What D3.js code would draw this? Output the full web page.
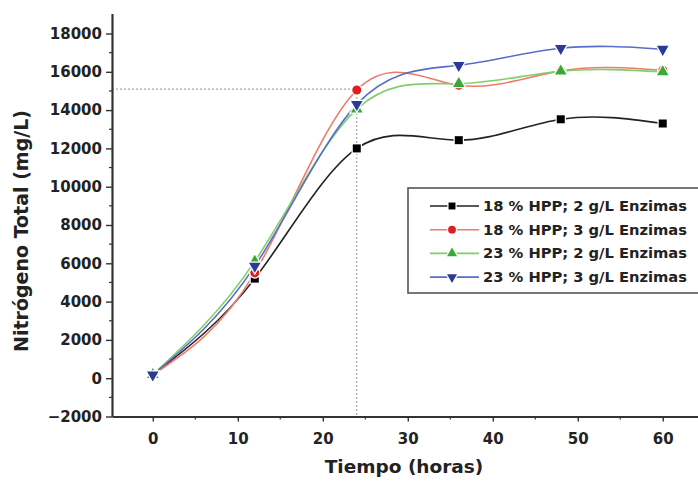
<!DOCTYPE html>
<html><head><meta charset="utf-8">
<script src="https://cdn.jsdelivr.net/npm/d3@7"></script>
<style>body{margin:0;background:#fff}svg{display:block}</style>
</head><body>
<svg id="c" width="698" height="482"></svg>
<script>
const hours = [0, 12, 24, 36, 48, 60];
const seriesNames = ["18 % HPP; 2 g/L Enzimas","18 % HPP; 3 g/L Enzimas","23 % HPP; 2 g/L Enzimas","23 % HPP; 3 g/L Enzimas"];
const s18_2 = [180, 5200, 12000, 12430, 13520, 13300];
const s18_3 = [180, 5500, 15050, 15300, 16050, 16080];
const s23_2 = [180, 6100, 14050, 15380, 16030, 15990];
const s23_3 = [180, 5850, 14300, 16340, 17230, 17180];
const yTicks = [-2000, 0, 2000, 4000, 6000, 8000, 10000, 12000, 14000, 16000, 18000];
const xTicks = [0, 10, 20, 30, 40, 50, 60];
const refPoint = {x: 24, y: 15100};

const lineColors = ["#222", "#f07a6a", "#7fcf6a", "#5a6cc8"];
const markColors = ["#000", "#e02020", "#39a935", "#2a3a9a"];
const shapes = [d3.symbolSquare, d3.symbolCircle, d3.symbolTriangle, "down"];
const allSeries = [s18_2, s18_3, s23_2, s23_3];

const svg = d3.select("#c");
const x = d3.scaleLinear().domain([-4.8, 64.5]).range([112, 701]);
const y = d3.scaleLinear().domain([-2000, 19050]).range([416.5, 13.4]);
const font = "'DejaVu Sans', sans-serif";

// reference dotted lines
svg.append("line").attr("x1", x(-4.8)).attr("x2", x(refPoint.x)).attr("y1", y(refPoint.y)).attr("y2", y(refPoint.y))
  .attr("stroke", "#aaa").attr("stroke-width", 1.2).attr("stroke-dasharray", "2,2");
svg.append("line").attr("x1", x(refPoint.x)).attr("x2", x(refPoint.x)).attr("y1", y(refPoint.y)).attr("y2", y(-2000))
  .attr("stroke", "#aaa").attr("stroke-width", 1.2).attr("stroke-dasharray", "2,2");

// axes
const yAxis = d3.axisLeft(y).tickValues(yTicks).tickFormat(d3.format("d")).tickSize(6).tickSizeOuter(0).tickPadding(4);
const gy = svg.append("g").attr("transform", `translate(${x(-4.8)},0)`).call(yAxis);
const yMinor = d3.range(-1000, 19000, 2000);
gy.selectAll(".minor").data(yMinor).join("line").attr("class","minor")
  .attr("x1", -3).attr("x2", 0).attr("y1", d => y(d)).attr("y2", d => y(d)).attr("stroke", "#333").attr("stroke-width", 1.2);

const xAxis = d3.axisBottom(x).tickValues(xTicks).tickSize(5).tickSizeOuter(0).tickPadding(12);
const gx = svg.append("g").attr("transform", `translate(0,${y(-2000)})`).call(xAxis);
const xMinor = d3.range(5, 65, 10);
gx.selectAll(".minor").data(xMinor).join("line").attr("class","minor")
  .attr("y1", 0).attr("y2", 3).attr("x1", d => x(d)).attr("x2", d => x(d)).attr("stroke", "#333").attr("stroke-width", 1.2);

[gx, gy].forEach(g => {
  g.select(".domain").attr("stroke", "#333").attr("stroke-width", 2.2);
  g.selectAll(".tick line").attr("stroke", "#333").attr("stroke-width", 1.4);
  g.selectAll(".tick text").attr("font-family", font).attr("font-weight", "bold").attr("font-size", 15).attr("fill", "#222");
});

// axis titles
svg.append("text").attr("x", 404).attr("y", 473).attr("text-anchor", "middle")
  .attr("font-family", font).attr("font-weight", "bold").attr("font-size", 18.5).attr("fill", "#222").text("Tiempo (horas)");
svg.append("text").attr("transform", "translate(28,231) rotate(-90)").attr("text-anchor", "middle")
  .attr("font-family", font).attr("font-weight", "bold").attr("font-size", 19).attr("fill", "#222").text("Nitrógeno Total (mg/L)");

function sym(i, size) {
  if (shapes[i] === "down") return d3.symbol(d3.symbolTriangle, size)();
  return d3.symbol(shapes[i], size)();
}
function symRot(i) { return shapes[i] === "down" ? " rotate(180)" : ""; }
const sizes = [64, 64, 58, 58];

const line = d3.line().x((d, i) => x(hours[i])).y(d => y(d)).curve(d3.curveNatural);
allSeries.forEach((s, k) => {
  svg.append("path").attr("d", line(s)).attr("fill", "none").attr("stroke", lineColors[k]).attr("stroke-width", 1.6);
});
allSeries.forEach((s, k) => {
  svg.append("g").selectAll("path").data(s).join("path")
    .attr("d", sym(k, sizes[k]))
    .attr("transform", (d, i) => `translate(${x(hours[i])},${y(d)})${symRot(k)}`)
    .attr("fill", markColors[k]).attr("stroke", "#fff").attr("stroke-width", 2.5)
    .attr("paint-order", "stroke");
});

// legend
const lg = svg.append("g");
lg.append("rect").attr("x", 408).attr("y", 188).attr("width", 300).attr("height", 105)
  .attr("fill", "#fff").attr("stroke", "#555").attr("stroke-width", 1.6);
seriesNames.forEach((n, k) => {
  const ly = 206 + k * 23.7;
  lg.append("line").attr("x1", 430).attr("x2", 479).attr("y1", ly).attr("y2", ly).attr("stroke", lineColors[k]).attr("stroke-width", 1.6);
  lg.append("path").attr("d", sym(k, sizes[k] * 0.75)).attr("transform", `translate(452,${ly})${symRot(k)}`)
    .attr("fill", markColors[k]).attr("stroke", "#fff").attr("stroke-width", 2.5).attr("paint-order", "stroke");
  lg.append("text").attr("x", 483).attr("y", ly + 5).attr("font-family", font).attr("font-weight", "bold")
    .attr("font-size", 13.5).attr("textLength", 204).attr("lengthAdjust", "spacingAndGlyphs")
    .attr("fill", "#222").text(n);
});
</script>
</body></html>
